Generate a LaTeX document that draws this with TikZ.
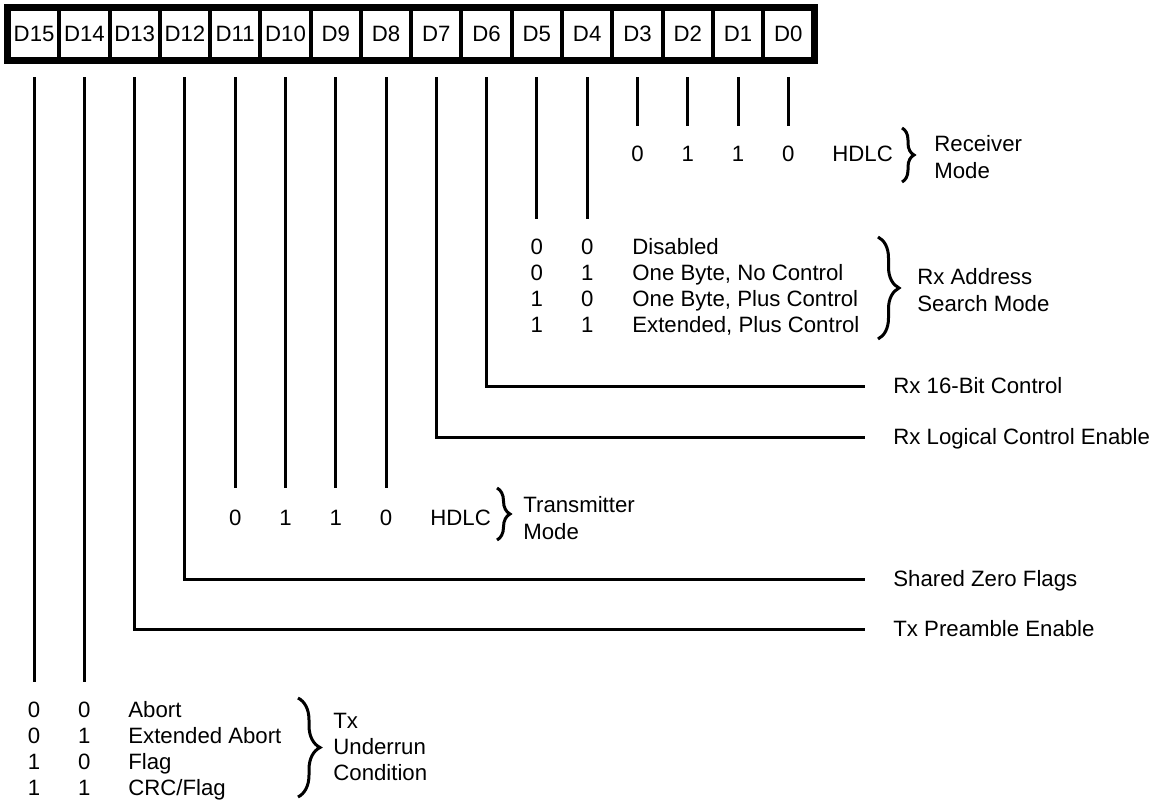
\documentclass[tikz,border=0pt]{standalone}
\usepackage{fontspec}
\setmainfont{Liberation Sans}
\usetikzlibrary{decorations.pathreplacing}

\newcommand\regfont{\fontsize{11.1}{13.2}\selectfont}

\tikzset{
	cell/.style={draw, line width=2pt, minimum width=25.14pt, minimum height=25pt, inner sep=0pt, font=\regfont},
	frame/.style={line width=3pt},
	bitline/.style={line width=1.5pt},
	dig/.style={inner sep=0pt, font=\regfont, text height=7.95pt, text depth=0pt},
	lbl/.style={dig, anchor=west},
	grp/.style={inner sep=0pt, font=\regfont, anchor=west, align=left},
	brc/.style={decorate, decoration={brace, amplitude=#1}, line width=1.5pt},
}

\begin{document}
\begin{tikzpicture}[x=0.5pt, y=-0.5pt]
		\useasboundingbox (0,0) rectangle (1158,803);
		
		% Register cells
		\foreach \b [count=\k from 0] in {15,14,...,0}
		{
			\node[cell] (d\b) at (34.1+50.28*\k,34) {D\b};
		}
		\draw[frame] (d15.north west) rectangle (d0.south east);
		
		% Drop points under the bits
		\foreach \b in {0,...,15}
			\coordinate (t\b) at ([yshift=-8pt]d\b.south);
		
		% Receiver mode (D3-D0)
		\foreach \b/\v in {3/0,2/1,1/1,0/0}
		{
			\node[dig] (rm\b) at (d\b |- 0,154) {\v};
			\draw[bitline] (t\b) -- ([yshift=10pt]rm\b.north);
		}
		\node[lbl] (rmhdlc) at (832,154) {HDLC};
		\draw[brc=6pt] (902,128) -- (902,182);
		\node[grp] (rmode) at (934,157) {Receiver\\Mode};
		
		% Rx address search mode (D5-D4)
		\foreach \x/\y/\t [count=\r from 0] in {0/0/Disabled, 0/1/{One Byte, No Control}, 1/0/{One Byte, Plus Control}, 1/1/{Extended, Plus Control}}
		{
			\node[dig] (ra\r) at (d5 |- 0,247+26*\r) {\x};
			\node[dig] (rb\r) at (d4 |- 0,247+26*\r) {\y};
			\node[lbl] (rt\r) at (632,247+26*\r) {\t};
		}
		\draw[bitline] (t5) -- ([yshift=10pt]ra0.north);
		\draw[bitline] (t4) -- ([yshift=10pt]rb0.north);
		\draw[brc=10.5pt] (878,237) -- (878,339);
		\node[grp] (rxas) at (917,290) {Rx Address\\Search Mode};
		
		% Single bit controls
		\node[lbl] (rx16) at (893,386) {Rx 16-Bit Control};
		\node[lbl] (rxlce) at (893,437) {Rx Logical Control Enable};
		\node[lbl] (szf) at (893,579) {Shared Zero Flags};
		\node[lbl] (txpe) at (893,629) {Tx Preamble Enable};
		\draw[bitline] (t6) |- ([xshift=-14pt]rx16.west);
		\draw[bitline] (t7) |- ([xshift=-14pt]rxlce.west);
		\draw[bitline] (t12) |- ([xshift=-14pt]szf.west);
		\draw[bitline] (t13) |- ([xshift=-14pt]txpe.west);
		
		% Transmitter mode (D11-D8)
		\foreach \b/\v in {11/0,10/1,9/1,8/0}
		{
			\node[dig] (tm\b) at (d\b |- 0,518) {\v};
			\draw[bitline] (t\b) -- ([yshift=11pt]tm\b.north);
		}
		\node[lbl] (tmhdlc) at (430,518) {HDLC};
		\draw[brc=6.5pt] (497,488) -- (497,540);
		\node[grp] (tmode) at (523,518) {Transmitter\\Mode};
		
		% Tx underrun condition (D15-D14)
		\foreach \x/\y/\t [count=\r from 0] in {0/0/Abort, 0/1/Extended Abort, 1/0/Flag, 1/1/CRC\slash Flag}
		{
			\node[dig] (ua\r) at (d15 |- 0,710+25.7*\r) {\x};
			\node[dig] (ub\r) at (d14 |- 0,710+25.7*\r) {\y};
			\node[lbl] (ut\r) at (128,710+25.7*\r) {\t};
		}
		\draw[bitline] (t15) -- ([yshift=10pt]ua0.north);
		\draw[bitline] (t14) -- ([yshift=10pt]ub0.north);
		\draw[brc=11pt] (298,698) -- (298,797);
		\node[grp] (txur) at (333,747) {Tx\\Underrun\\Condition};
		
\end{tikzpicture}
\end{document}
